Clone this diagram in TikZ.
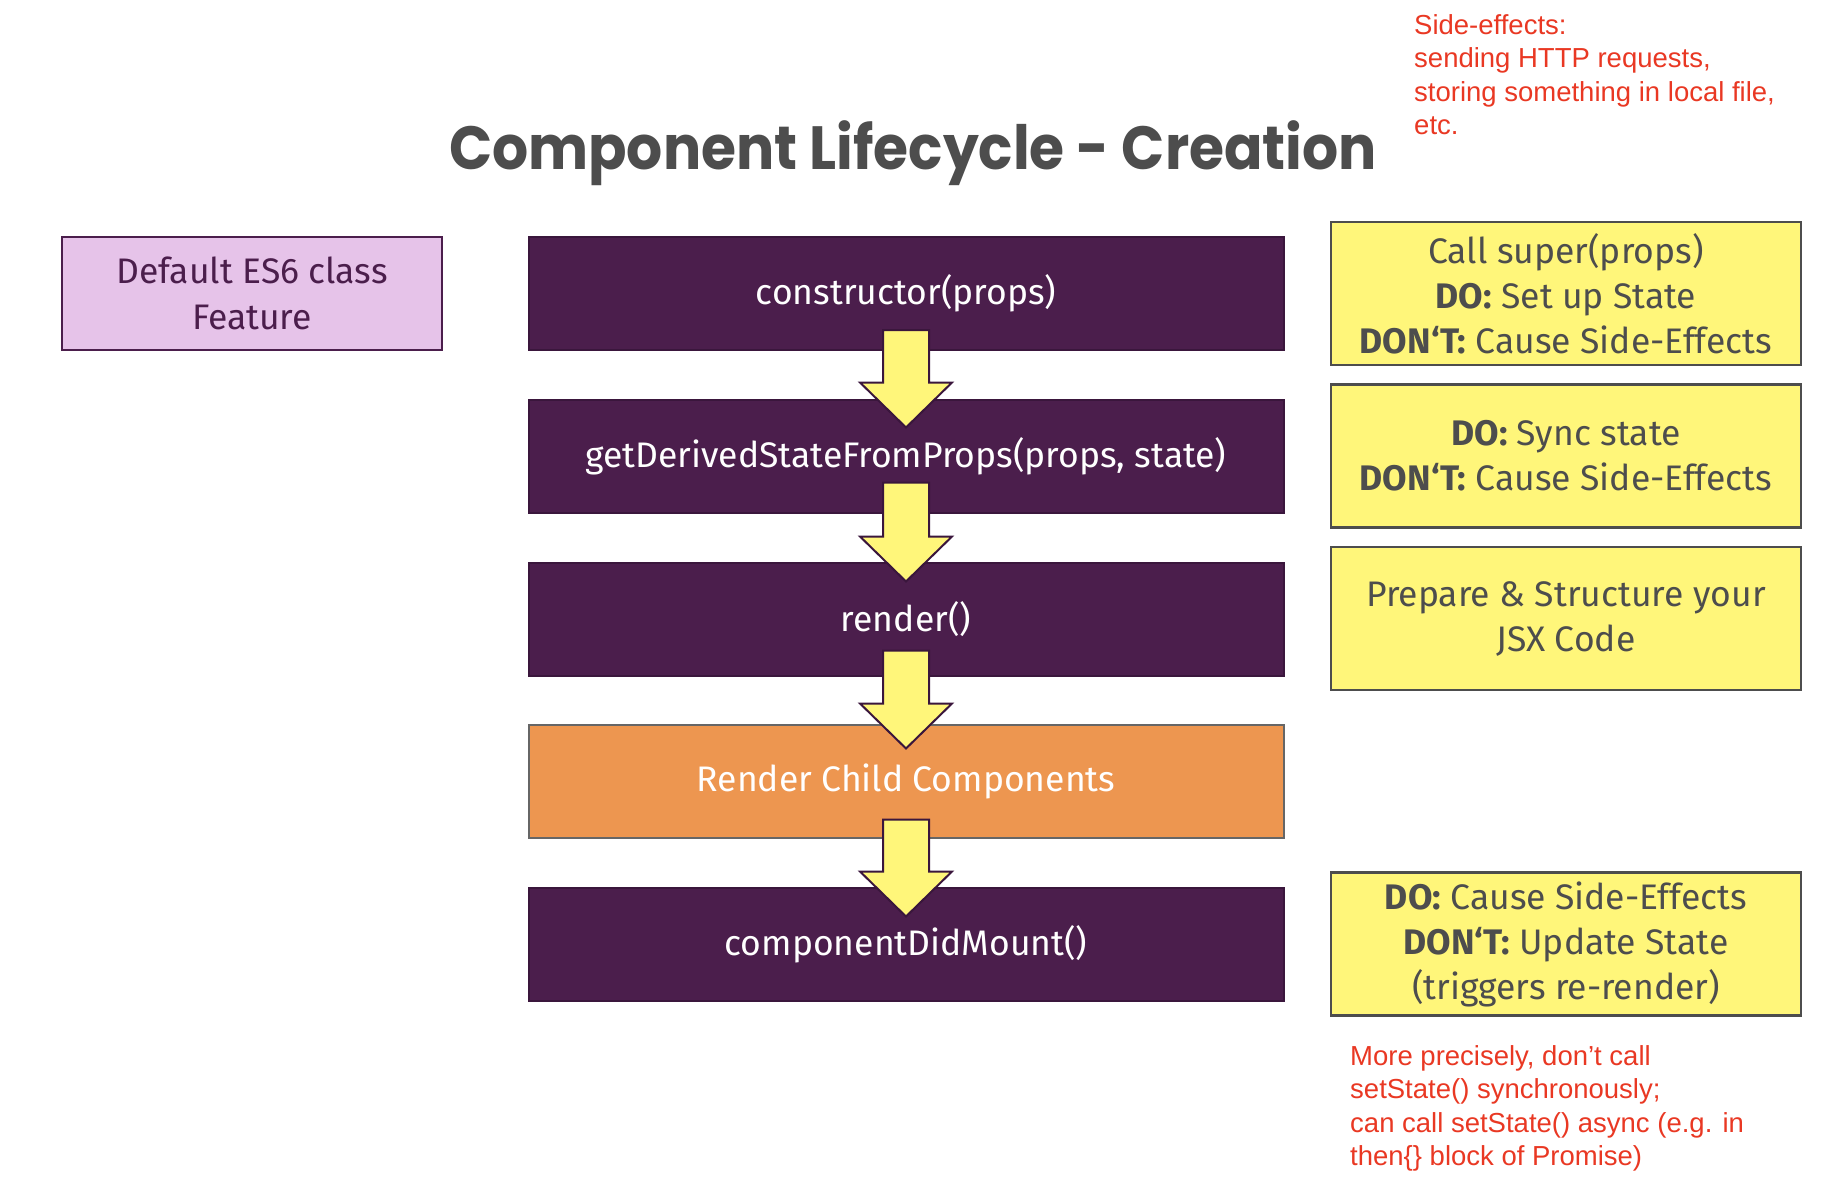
\documentclass[tikz,border=0pt]{standalone}
\usepackage{fontspec}
\setmainfont{Fira Sans}
\newfontfamily\titlefont{Poppins}[FakeStretch=0.93]
\newfontfamily\redfont{Liberation Sans}
\usetikzlibrary{calc}
\definecolor{purp}{RGB}{75,30,76}
\definecolor{purpline}{RGB}{58,22,60}
\definecolor{lav}{RGB}{230,195,233}
\definecolor{orng}{RGB}{237,150,80}
\definecolor{yel}{RGB}{255,246,122}
\definecolor{darkgray}{RGB}{77,77,77}
\definecolor{redtxt}{RGB}{233,56,35}
\tikzset{
  basebox/.style={draw, line width=2pt, minimum width=755pt, minimum height=113pt, inner sep=0pt, align=center, font=\fontsize{35.5}{45}\selectfont},
  purpbox/.style={basebox, fill=purp, draw=purpline, text=white},
  orangebox/.style={basebox, fill=orng, draw=gray!80!black, text=white},
  notebox/.style={draw=darkgray, line width=2.5pt, fill=yel, text=darkgray, minimum width=470pt, minimum height=143pt, inner sep=0pt, align=center, font=\fontsize{35.5}{45}\selectfont},
  lavbox/.style={draw=purp, line width=2pt, fill=lav, text=purp, minimum width=380pt, minimum height=113pt, inner sep=0pt, align=center, font=\fontsize{35.5}{46}\selectfont},
  redtext/.style={text=redtxt, inner sep=0pt, align=left, anchor=north west, font=\redfont\fontsize{27.5}{33.5}\selectfont},
  blockarrow/.style={fill=yel, draw=purpline, line width=2pt, line join=miter}
}
\newcommand{\flowarrow}[4]{%
  \draw[blockarrow] let \p1=($(#1.south)+(0,-#2)$), \p2=($(#3.north)+(0,#4)$) in
    (\x1-23pt,\y1) -- (\x1+23pt,\y1) -- (\x1+23pt,\y2+45pt) -- (\x1+46pt,\y2+45pt)
    -- (\x1,\y2) -- (\x1-46pt,\y2+45pt) -- (\x1-23pt,\y2+45pt) -- cycle;}
\begin{document}
\begin{tikzpicture}[x=1pt,y=-1pt]
\useasboundingbox (0,0) rectangle (1834,1188);
\node[text=darkgray, inner sep=0pt, anchor=base, font=\titlefont\bfseries\fontsize{61}{63}\selectfont] (title) at (913,169) {Component Lifecycle - Creation};
\node[redtext] (sidefx) at (1414,14) {Side-effects:\\sending HTTP requests,\\storing something in local file,\\etc.};
\node[lavbox] (es6) at (252,293.5) {Default ES6 class\\Feature};
\node[purpbox] (ctor) at (906,293.5) {constructor(props)};
\node[purpbox] (gdsfp) at (906,456) {getDerivedStateFromProps(props, state)};
\node[purpbox] (render) at (906,619) {render()};
\node[orangebox] (child) at (906,781) {Render Child Components};
\node[purpbox] (cdm) at (906,944) {componentDidMount()};
\node[notebox] (n1) at (1566,293.5) {Call super(props)\\\textbf{DO:} Set up State\\\textbf{DON‘T:} Cause Side-Effects};
\node[notebox] (n2) at (1566,456) {\textbf{DO:} Sync state\\\textbf{DON‘T:} Cause Side-Effects};
\node[notebox] (n3) at (1566,618.5) {Prepare \& Structure your\\JSX Code};
\node[notebox] (n4) at (1566,944) {\textbf{DO:} Cause Side-Effects\\\textbf{DON‘T:} Update State\\(triggers re-render)};
\node[redtext] (note) at (1350,1045) {More precisely, don’t call\\setState() synchronously;\\can call setState() async (e.g. in\\then\{\} block of Promise)};
\flowarrow{ctor}{21}{gdsfp}{29}
\flowarrow{gdsfp}{31}{render}{20}
\flowarrow{render}{26}{child}{25}
\flowarrow{child}{19}{cdm}{30}
\end{tikzpicture}
\end{document}
